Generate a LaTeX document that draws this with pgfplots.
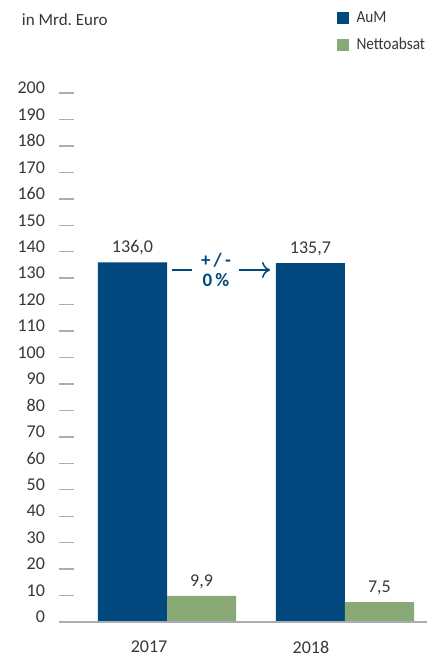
\documentclass[border=0pt]{standalone}
\usepackage{fontspec}
\setmainfont{Carlito}
\newfontfamily\condensed[FakeStretch=0.9]{Carlito}
\usepackage{pgfplots}
\pgfplotsset{compat=1.18}
\usetikzlibrary{arrows.meta}
\definecolor{aumblue}{RGB}{0,72,125}
\definecolor{nettogreen}{RGB}{137,170,118}
\definecolor{axisgray}{RGB}{168,174,180}
\definecolor{txt}{RGB}{55,55,55}
\begin{document}
\begin{tikzpicture}
\path[use as bounding box] (-29.5pt,-16.5pt) rectangle (184pt,311pt);
\begin{axis}[
  at={(0pt,0pt)}, anchor=south west,
  scale only axis,
  width=184pt, height=264.5pt,
  xmin=-0.607, xmax=1.461,
  ymin=0, ymax=200,
  axis on top,
  clip=false,
  axis x line=bottom, axis y line=left,
  x axis line style={-, draw=axisgray, line width=1pt},
  y axis line style={draw=none},
  ytick={0,10,...,200},
  tick align=inside,
  major tick length=7.5pt,
  ytick style={draw=axisgray, line width=0.7pt},
  xtick={-0.101,0.809},
  xticklabels={2017,2018},
  xtick style={draw=none},
  tick label style={font=\fontsize{9}{10}\selectfont, text=txt},
  yticklabel style={xshift=-3.5pt, yshift=2.5pt},
  xticklabel style={yshift=1.5pt},
  /pgf/number format/assume math mode=true,
  ybar, bar width=0.388,
  nodes near coords,
  nodes near coords style={font=\fontsize{9}{10}\selectfont, text=txt,
    /pgf/number format/.cd, fixed, fixed zerofill, precision=1, use comma},
  legend style={at={(rel axis cs:0.753,1.163)}, anchor=north west, draw=none, fill=none,
    font=\condensed\fontsize{8.5}{10}\selectfont, text=txt, row sep=2.5pt, inner sep=0pt,
    legend cell align=left},
  legend image code/.code={\fill[#1] (0pt,-3pt) rectangle (6pt,3pt); \path (8pt,0pt);},
]
\addplot[fill=aumblue, draw=none, bar shift=-0.194] coordinates {(0,136.0) (1,135.7)};
\addlegendentry{AuM}
\addplot[fill=nettogreen, draw=none, bar shift=0.194] coordinates {(0,9.9) (1,7.5)};
\addlegendentry{Nettoabsat}
\node[anchor=west, font=\fontsize{8.5}{10}\selectfont, text=txt] at (rel axis cs:-0.12,1.138) {in Mrd.\ Euro};
\draw[aumblue, line width=0.75pt] (axis cs:0.028,133.1) -- (axis cs:0.140,133.1);
\draw[aumblue, line width=0.75pt, -{To[length=4pt,width=8pt]}] (axis cs:0.404,133.1) -- (axis cs:0.579,133.1);
\node[font=\bfseries\fontsize{9.5}{10}\selectfont, text=aumblue] at (axis cs:0.275,136.9) {+\,/\,-};
\node[font=\bfseries\fontsize{9.5}{10}\selectfont, text=aumblue] at (axis cs:0.275,129.3) {0\,\%};
\end{axis}
\end{tikzpicture}
\end{document}
